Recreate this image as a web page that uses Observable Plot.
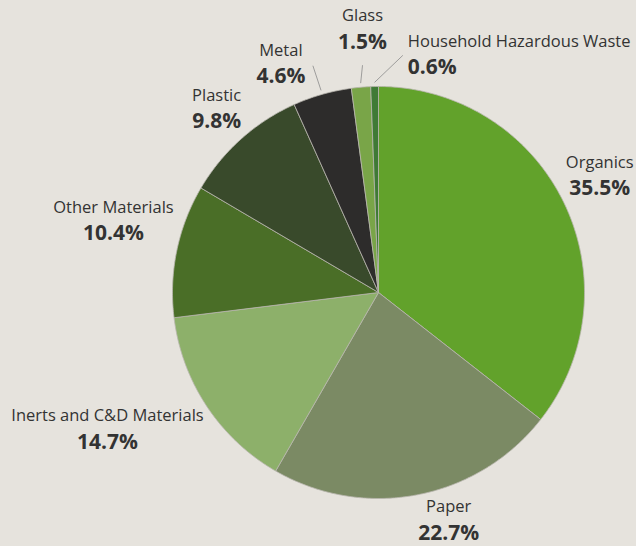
<!DOCTYPE html>
<html>
<head>
<meta charset="utf-8">
<script src="https://cdn.jsdelivr.net/npm/d3@7"></script>
<script src="https://cdn.jsdelivr.net/npm/@observablehq/plot@0.6"></script>
<style>
  html, body { margin: 0; padding: 0; background: #e6e3dd; }
  #chart { width: 636px; height: 546px; }
</style>
</head>
<body>
<div id="chart"></div>
<script>
// ---- data ----
const categories = ["Organics", "Paper", "Inerts and C&D Materials", "Other Materials", "Plastic", "Metal", "Glass", "Household Hazardous Waste"];
const shares = [35.5, 22.7, 14.7, 10.4, 9.8, 4.6, 1.5, 0.6];
const sliceColors = ["#62a22b", "#7b8a64", "#8db06a", "#4a6e27", "#394a2b", "#2d2c2b", "#79a548", "#3f7a35"];

// ---- layout (label nudges in px, relative to a radial anchor) ----
const labelRadius = 1.2;
const labelNudge = [[-1, -9], [23, -15], [-65, 0], [-23, -22], [3, 0], [-30, 9], [5, -17], [34, 9]];
const leaderFor = ["Metal", "Glass", "Household Hazardous Waste"];
const leaderEnd = {"Metal": [32, 2], "Glass": [0, 36], "Household Hazardous Waste": [-5, 1]};

const W = 636, H = 546, CX = 378, CY = 292, R = 206;
const px = 1 / R; // one pixel in data units

const arcs = d3.pie().sort(null).value(d => d)(shares);
const polar = (a, r) => [Math.sin(a) * r, Math.cos(a) * r];

// slice polygons
const polys = [];
arcs.forEach((a, i) => {
  const n = Math.max(4, Math.ceil((a.endAngle - a.startAngle) / 0.01));
  polys.push({name: categories[i], color: sliceColors[i], x: 0, y: 0});
  for (let k = 0; k <= n; k++) {
    const t = a.startAngle + (a.endAngle - a.startAngle) * k / n;
    const [x, y] = polar(t, 1);
    polys.push({name: categories[i], color: sliceColors[i], x, y});
  }
  polys.push({name: categories[i], color: sliceColors[i], x: 0, y: 0});
});

// labels
const labels = arcs.map((a, i) => {
  const mid = (a.startAngle + a.endAngle) / 2;
  const [x, y] = polar(mid, labelRadius);
  return {
    name: categories[i],
    value: shares[i].toFixed(1) + "%",
    mid,
    x: x + labelNudge[i][0] * px,
    y: y - labelNudge[i][1] * px
  };
});

const leaders = labels.filter(d => leaderFor.includes(d.name)).map(d => {
  const [x1, y1] = polar(d.mid, 1.02);
  const e = leaderEnd[d.name];
  return {x1, y1, x2: d.x + e[0] * px, y2: d.y - e[1] * px};
});

const centered = labels.filter(d => d.name !== "Household Hazardous Waste");
const leftAligned = labels.filter(d => d.name === "Household Hazardous Waste");
const font = "'Open Sans', sans-serif";

const chart = Plot.plot({
  width: W,
  height: H,
  margin: 0,
  style: {background: "#e6e3dd", fontFamily: font},
  x: {domain: [-CX / R, (W - CX) / R], axis: null},
  y: {domain: [-(H - CY) / R, CY / R], axis: null},
  marks: [
    Plot.line(polys, {x: "x", y: "y", z: "name", fill: "color", stroke: "#b9b6ae", strokeWidth: 0.8, curve: "linear"}),
    Plot.link(leaders, {x1: "x1", y1: "y1", x2: "x2", y2: "y2", stroke: "#8a8a8a", strokeWidth: 0.8}),
    Plot.text(centered, {x: "x", y: "y", text: "name", dy: -13, fontSize: 16.5, fill: "#333333"}),
    Plot.text(centered, {x: "x", y: "y", text: "value", dy: 13, fontSize: 21, fontWeight: "bold", fill: "#333333"}),
    Plot.text(leftAligned, {x: "x", y: "y", text: "name", dy: -13, fontSize: 16.5, fill: "#333333", textAnchor: "start"}),
    Plot.text(leftAligned, {x: "x", y: "y", text: "value", dy: 13, fontSize: 21, fontWeight: "bold", fill: "#333333", textAnchor: "start"})
  ]
});
document.getElementById("chart").appendChild(chart);
</script>
</body>
</html>
